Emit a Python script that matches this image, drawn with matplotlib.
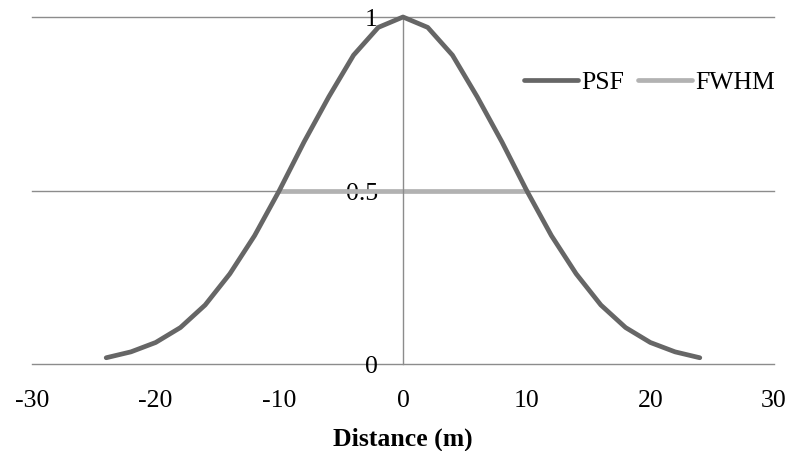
import matplotlib
matplotlib.use("Agg")
import matplotlib.pyplot as plt

# PSF samples
distance = [-24, -22, -20, -18, -16, -14, -12, -10, -8, -6, -4, -2, 0,
            2, 4, 6, 8, 10, 12, 14, 16, 18, 20, 22, 24]
psf = [0.018, 0.035, 0.062, 0.105, 0.17, 0.26, 0.37, 0.50, 0.64, 0.77, 0.89, 0.97, 1.0,
       0.97, 0.89, 0.77, 0.64, 0.50, 0.37, 0.26, 0.17, 0.105, 0.062, 0.035, 0.018]

fwhm_x = [-10, 10]
fwhm_y = [0.5, 0.5]

x_ticks = [-30, -20, -10, 0, 10, 20, 30]
y_ticks = [0, 0.5, 1]

plt.rcParams['font.family'] = ['Liberation Serif', 'DejaVu Serif']

fig = plt.figure(figsize=(7.94, 4.52), dpi=100)
ax = fig.add_axes([32 / 794, 1 - 365 / 452, (774 - 32) / 794, (365 - 18) / 452])

grid_col = '#8c8c8c'
for y in y_ticks:
    ax.axhline(y, color=grid_col, lw=1.0, zorder=1, clip_on=False)

ax.plot(distance, psf, color='#666666', lw=3.4, solid_capstyle='round',
        solid_joinstyle='round', label='PSF', zorder=3, clip_on=False)
ax.plot(fwhm_x, fwhm_y, color='#b2b2b2', lw=3.4, solid_capstyle='round',
        label='FWHM', zorder=2)

ax.set_xlim(-30, 30)
ax.set_ylim(0, 1)

for s in ['top', 'right', 'bottom']:
    ax.spines[s].set_visible(False)
ax.spines['left'].set_position(('data', 0))
ax.spines['left'].set_color(grid_col)
ax.spines['left'].set_linewidth(1.0)

ax.set_xticks(x_ticks)
ax.set_xticklabels([str(t) for t in x_ticks])
ax.set_yticks(y_ticks)
ax.set_yticklabels(['0', '0.5', '1'])
ax.tick_params(axis='x', length=0, pad=18, labelsize=18.5)
ax.tick_params(axis='y', length=0, pad=18, labelsize=18.5)

ax.set_xlabel('Distance (m)', fontsize=18.5, fontweight='bold', labelpad=11)

fig.legend(loc='center right', bbox_to_anchor=(775 / 794, 1 - 83 / 452),
           ncol=2, frameon=False, fontsize=18.5, handlelength=2.1,
           handletextpad=0.12, columnspacing=0.55, borderpad=0, borderaxespad=0)

fig.savefig('out.png', dpi=100)
